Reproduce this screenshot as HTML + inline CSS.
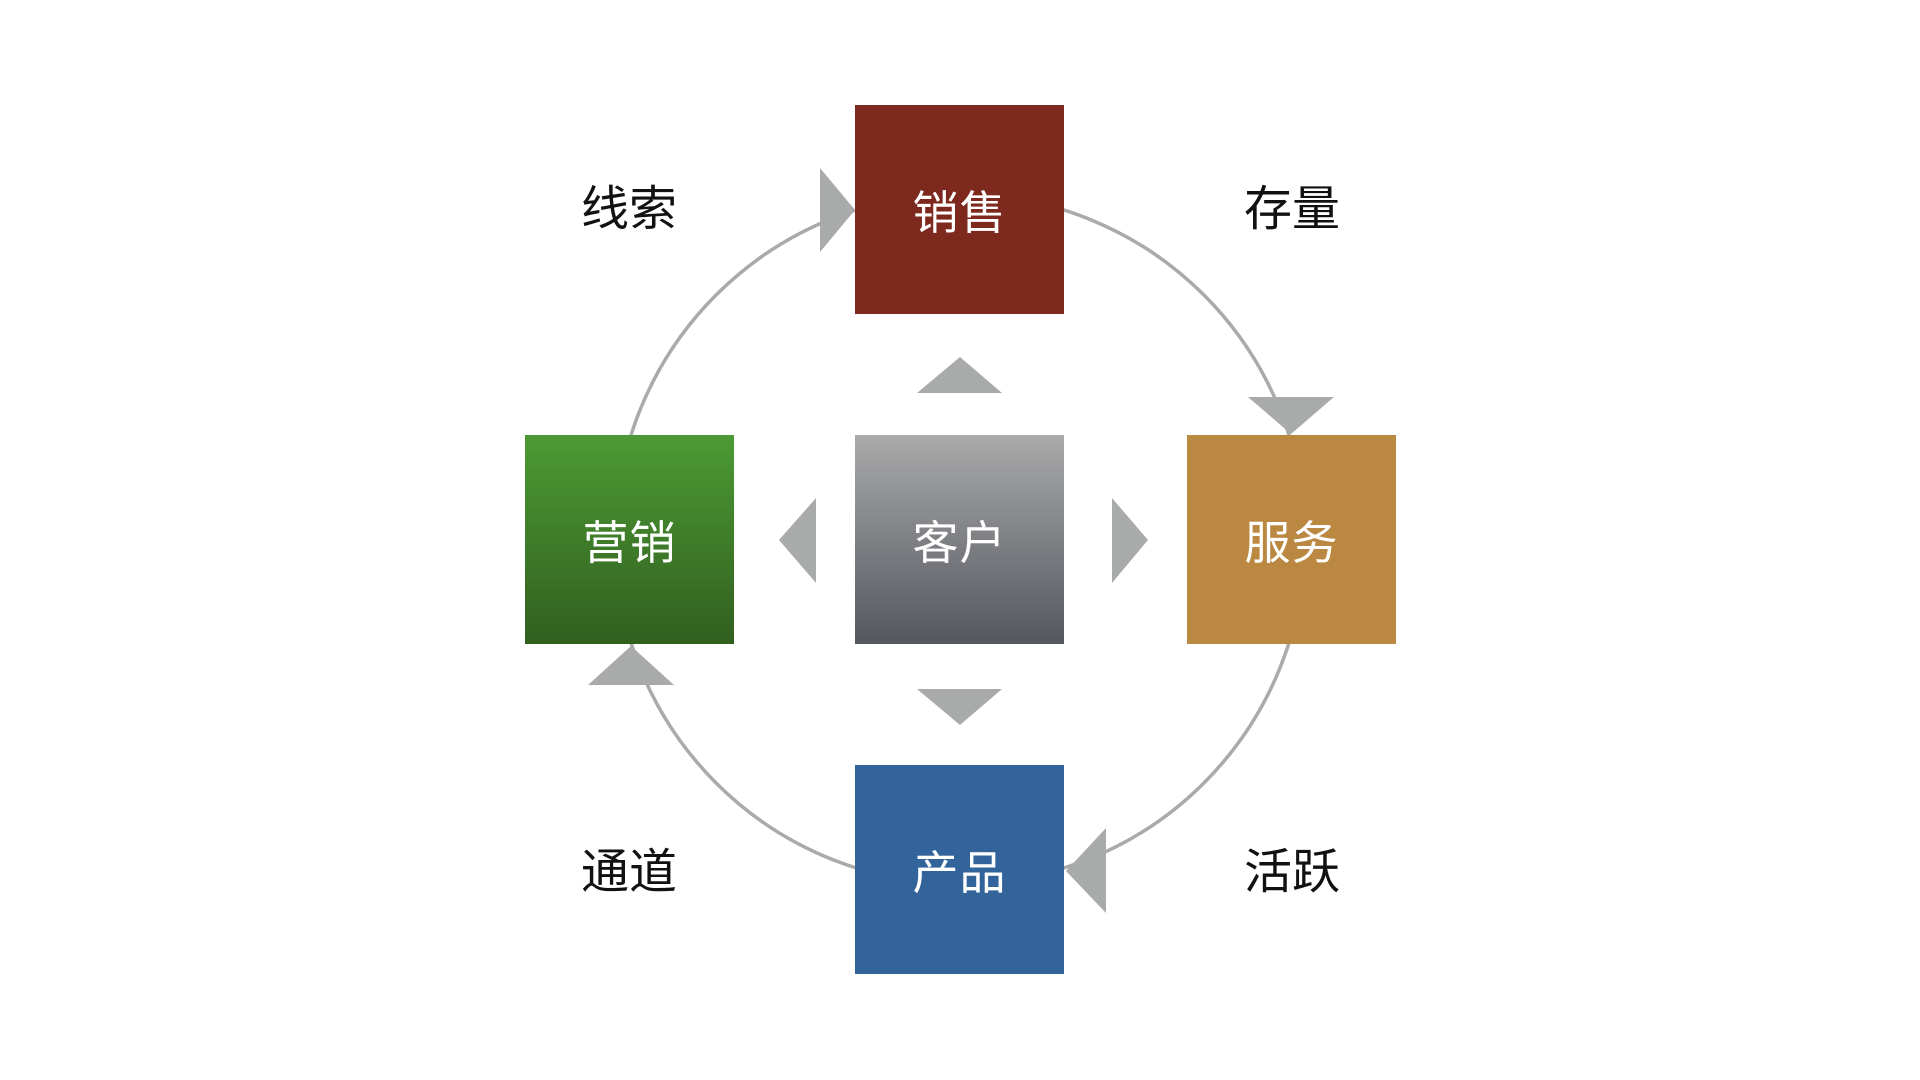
<!DOCTYPE html>
<html><head><meta charset="utf-8"><style>
html,body{margin:0;padding:0;background:#fff;width:1920px;height:1080px;overflow:hidden}
.b{position:absolute;width:209px;height:209px;display:flex;align-items:center;justify-content:center;color:#fff;font:46px "Liberation Sans","Noto Sans CJK SC",sans-serif;letter-spacing:1px}
.l{position:absolute;width:200px;text-align:center;font:48px "Liberation Sans","Noto Sans CJK SC",sans-serif;color:#111;line-height:60px}
</style></head><body>
<svg width="1920" height="1080" style="position:absolute;left:0;top:0">
<circle cx="960" cy="539" r="345" fill="none" stroke="#a9aaaa" stroke-width="3.5"/>
<g fill="#a9aaaa">
<polygon points="820,168 820,252 855,210"/>
<polygon points="1248,397 1334,397 1291,434"/>
<polygon points="1106,828 1106,913 1066,871"/>
<polygon points="588,685 674,685 631,646"/>
<polygon points="917,393 1002,393 960,357"/>
<polygon points="917,689 1002,689 960,725"/>
<polygon points="816,498 816,583 779,540"/>
<polygon points="1112,498 1112,583 1148,540"/>
</g>
</svg>
<div class="b" style="left:855px;top:105px;background:#7d291e">销售</div>
<div class="b" style="left:525px;top:435px;background:linear-gradient(#4b9a34,#325f1f)">营销</div>
<div class="b" style="left:855px;top:435px;background:linear-gradient(#a9aaaa,#55575f)">客户</div>
<div class="b" style="left:1187px;top:435px;background:#bb8842">服务</div>
<div class="b" style="left:855px;top:765px;background:#32639b">产品</div>
<div class="l" style="left:529px;top:180px">线索</div>
<div class="l" style="left:1192px;top:180px">存量</div>
<div class="l" style="left:529px;top:843px">通道</div>
<div class="l" style="left:1192px;top:843px">活跃</div>
</body></html>
